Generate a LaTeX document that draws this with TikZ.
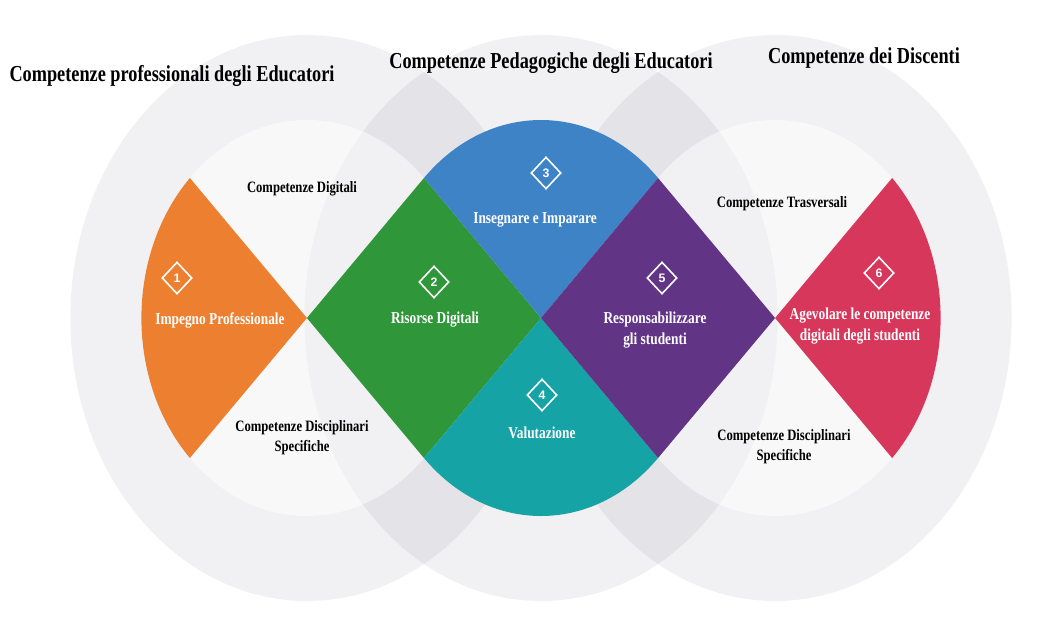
\documentclass[tikz,border=0pt]{standalone}
\usepackage{fontspec}
\setmainfont{Liberation Serif}[FakeStretch=0.8]
\newfontfamily\numfont{Liberation Sans}
\usetikzlibrary{shapes.geometric}

\definecolor{cerchio}{RGB}{120,120,138}
\definecolor{arancio}{RGB}{237,128,48}
\definecolor{verde}{RGB}{47,150,58}
\definecolor{blu}{RGB}{63,131,199}
\definecolor{ottanio}{RGB}{22,163,166}
\definecolor{viola}{RGB}{98,52,134}
\definecolor{cremisi}{RGB}{214,55,90}

\begin{document}
\begin{tikzpicture}[x=0.02cm, y=-0.02cm,
    titolo/.style={font=\fontsize{13}{15}\selectfont\bfseries, text=black},
    etichetta/.style={font=\fontsize{9}{11.5}\selectfont\bfseries, align=center, text=black},
    voce/.style={font=\fontsize{9.5}{12}\selectfont\bfseries, align=center, text=white},
    badge/.style={diamond, draw=white, line width=0.9pt, inner sep=0pt,
        minimum width=0.6cm, minimum height=0.64cm, text=white,
        font=\numfont\fontsize{7}{7}\selectfont\bfseries}]

    % Sfondo bianco e cornice
    \fill[white] (0,0) rectangle (1041,616);
    \useasboundingbox (0,0) rectangle (1041,616);

    \begin{scope}[shift={(541,318)}, xscale=0.836]
        % Tre cerchi grigi (anello esterno e disco interno)
        \foreach \cx in {-280,0,280} {
            \fill[cerchio, fill opacity=0.1] (\cx,0) circle (283);
        }
        \foreach \cx in {-280,0,280} {
            \fill[white, fill opacity=0.5] (\cx,0) circle (198);
        }

        % Settori e rombi colorati
        \fill[arancio] (-280,0) -- ++(135:198) arc (135:225:198) -- cycle;
        \fill[verde] (-280,0) -- (-140,-140) -- (0,0) -- (-140,140) -- cycle;
        \fill[blu] (0,0) -- ++(225:198) arc (225:315:198) -- cycle;
        \fill[ottanio] (0,0) -- ++(45:198) arc (45:135:198) -- cycle;
        \fill[viola] (0,0) -- (140,-140) -- (280,0) -- (140,140) -- cycle;
        \fill[cremisi] (280,0) -- ++(-45:198) arc (-45:45:198) -- cycle;
    \end{scope}

    % Titoli delle tre aree
    \node[titolo] (tprof) at (172,76) {Competenze professionali degli Educatori};
    \node[titolo] (tped) at (551,63) {Competenze Pedagogiche degli Educatori};
    \node[titolo] (tdis) at (864,58) {Competenze dei Discenti};

    % Etichette nere sullo sfondo
    \node[etichetta] (cdig) at (302,189) {Competenze Digitali};
    \node[etichetta] (cdisa) at (302,438) {Competenze Disciplinari\\Specifiche};
    \node[etichetta] (ctra) at (782,204) {Competenze Trasversali};
    \node[etichetta] (cdisb) at (784,447) {Competenze Disciplinari\\Specifiche};

    % Voci bianche sulle aree colorate
    \node[voce] (impegno) at (220,320) {Impegno Professionale};
    \node[voce] (risorse) at (435,320) {Risorse Digitali};
    \node[voce] (insegnare) at (535,220) {Insegnare e Imparare};
    \node[voce] (valutazione) at (542,433) {Valutazione};
    \node[voce] (respons) at (655,330) {Responsabilizzare\\gli studenti};
    \node[voce] (agevolare) at (860,326) {Agevolare le competenze\\digitali degli studenti};

    % Numeri nei rombi
    \foreach \n/\px/\py in {1/177/278, 2/434/282, 3/546/173, 4/542/395, 5/662/278, 6/879/273} {
        \node[badge] (b\n) at (\px,\py) {\n};
    }
\end{tikzpicture}
\end{document}
